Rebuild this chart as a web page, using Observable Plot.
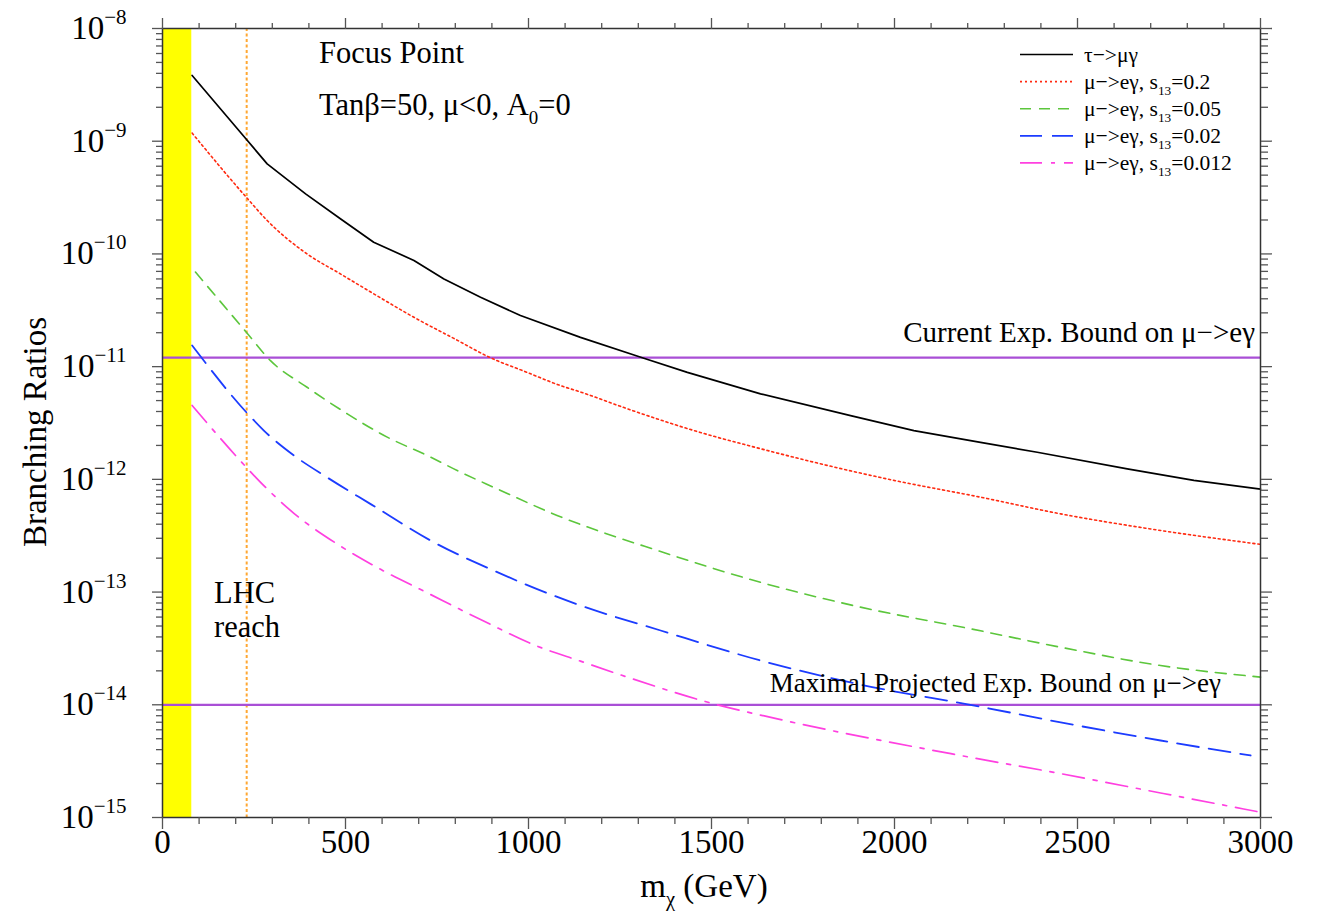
<!DOCTYPE html>
<html><head><meta charset="utf-8">
<script src="https://cdn.jsdelivr.net/npm/d3@7"></script>
<script src="https://cdn.jsdelivr.net/npm/@observablehq/plot@0.6"></script>
<style>body{margin:0;background:#fff} svg{display:block}</style>
</head><body><div id="chart"></div>
<script>
const FONT = '"Liberation Serif","Times New Roman",Times,serif';

// ---- data ----
const massTau = [81,229,286,391,486,577,687,769,869,978,1142,1311,1434,1634,1880,2053,2235,2390,2636,2818,3000];
const brTau   = [3.83e-9,1.04e-9,6.3e-10,3.41e-10,2.05e-10,1.27e-10,8.75e-11,6.0e-11,4.13e-11,2.84e-11,1.82e-11,1.20e-11,8.9e-12,5.74e-12,3.68e-12,2.71e-12,2.13e-12,1.74e-12,1.24e-12,9.8e-13,8.2e-13];

const massS02 = [81,229,286,395,486,577,687,796,896,996,1087,1142,1270,1452,1634,1816,1998,2235,2454,2727,3000];
const brS02   = [1.18e-9,3.18e-10,1.98e-10,1.0e-10,6.65e-11,4.43e-11,2.74e-11,1.78e-11,1.20e-11,8.9e-12,6.8e-12,5.96e-12,4.23e-12,2.71e-12,1.87e-12,1.33e-12,9.8e-13,6.95e-13,4.94e-13,3.52e-13,2.65e-13];

const massS005 = [90,229,295,395,505,614,723,814,905,1078,1361,1634,1907,2208,2454,2727,3000];
const brS005   = [6.9e-11,2.02e-11,1.13e-11,6.56e-12,3.81e-12,2.37e-12,1.63e-12,1.16e-12,8.5e-13,4.79e-13,2.29e-13,1.22e-13,7.35e-14,4.72e-14,3.24e-14,2.23e-14,1.76e-14];

const massS002 = [81,229,277,359,450,570,741,905,1069,1142,1361,1634,1907,2235,2454,2727,2973];
const brS002   = [1.54e-11,3.94e-12,2.71e-12,1.63e-12,1.04e-12,6.0e-13,2.77e-13,1.55e-13,9.3e-14,7.6e-14,4.56e-14,2.47e-14,1.51e-14,9.6e-15,6.98e-15,4.82e-15,3.55e-15];

const massS0012 = [81,229,268,359,486,596,723,869,1024,1142,1270,1506,1680,2180,2454,2727,2990];
const brS0012   = [4.52e-12,1.28e-12,9.4e-13,5.0e-13,2.56e-13,1.59e-13,9.86e-14,5.71e-14,3.31e-14,2.44e-14,1.76e-14,1.02e-14,7.5e-15,3.55e-15,2.45e-15,1.65e-15,1.13e-15];

const seriesLabels = ["τ−>μγ", "μ−>eγ, s_{13}=0.2", "μ−>eγ, s_{13}=0.05", "μ−>eγ, s_{13}=0.02", "μ−>eγ, s_{13}=0.012"];
const boundValues = [1.2e-11, 1.0e-14];
const boundLabels = ["Current Exp. Bound on μ−>eγ", "Maximal Projected Exp. Bound on μ−>eγ"];
const lhcBand = [{lo: 0, hi: 80}];
const lhcReach = [230];
const xDomain = [0, 3000];
const yDomain = [1e-15, 1e-8];
const xMajor = [0, 500, 1000, 1500, 2000, 2500, 3000];
const xMinor = d3.range(0, 3001, 100).filter(v => v % 500 !== 0);
const yExps = [-15, -14, -13, -12, -11, -10, -9, -8];
const yMajor = yExps.map(e => Math.pow(10, e));
const yMinor = yExps.slice(0, -1).flatMap(e => [2,3,4,5,6,7,8,9].map(k => k * Math.pow(10, e)));

// ---- styles ----
const seriesData = [[massTau, brTau],[massS02, brS02],[massS005, brS005],[massS002, brS002],[massS0012, brS0012]];
const styles = [
  {color: "#000000", width: 1.7, dash: null, curve: "linear"},
  {color: "#ff2a10", width: 1.6, dash: "2,3", curve: "monotone-x"},
  {color: "#5cc63c", width: 1.6, dash: "11,8", curve: "monotone-x"},
  {color: "#1c3cff", width: 1.8, dash: "22,10", curve: "monotone-x"},
  {color: "#ff40e0", width: 1.7, dash: "22,9,4,9", curve: "monotone-x"}
];

const rows = seriesData.flatMap(([ms, bs], s) => ms.map((m, i) => ({s, m, br: bs[i]})));

const tickCommon = {label: null, stroke: "#555", strokeWidth: 1.3};
const blank = () => "";

const plot = Plot.plot({
  width: 1317, height: 916,
  marginLeft: 162, marginRight: 57, marginTop: 28, marginBottom: 99,
  x: {domain: xDomain},
  y: {type: "log", domain: yDomain},
  style: {fontFamily: FONT, background: "white", color: "black"},
  marks: [
    Plot.rect(lhcBand, {x1: "lo", x2: "hi", y1: () => yDomain[0], y2: () => yDomain[1], fill: "#ffff00"}),
    Plot.ruleX(lhcReach, {x: d => d, stroke: "#ffa733", strokeWidth: 2, strokeDasharray: "3,2.5"}),
    Plot.ruleY(boundValues, {y: d => d, stroke: "#a94fd6", strokeWidth: 2.2}),
    ...styles.map((st, s) => Plot.line(rows.filter(r => r.s === s), {
      x: "m", y: "br", stroke: st.color, strokeWidth: st.width,
      strokeDasharray: st.dash, curve: st.curve
    })),
    Plot.frame({stroke: "#333", strokeWidth: 1.5}),
    Plot.axisX({...tickCommon, anchor: "bottom", ticks: xMajor, tickSize: 12, tickPadding: 0, fontSize: 33, tickFormat: d => String(d)}),
    Plot.axisX({...tickCommon, anchor: "bottom", ticks: xMinor, tickSize: 7, tickFormat: blank}),
    Plot.axisX({...tickCommon, anchor: "top", ticks: xMajor, tickSize: 11, tickFormat: blank}),
    Plot.axisX({...tickCommon, anchor: "top", ticks: xMinor, tickSize: 6, tickFormat: blank}),
    Plot.axisY({...tickCommon, anchor: "left", ticks: yMajor, tickSize: 10, tickPadding: 26, fontSize: 33,
      tickFormat: d => "E" + String(Math.round(Math.log10(d))).replace("-", "−")}),
    Plot.axisY({...tickCommon, anchor: "left", ticks: yMinor, tickSize: 6, tickFormat: blank}),
    Plot.axisY({...tickCommon, anchor: "right", ticks: yMajor, tickSize: 11, tickFormat: blank}),
    Plot.axisY({...tickCommon, anchor: "right", ticks: yMinor, tickSize: 7, tickFormat: blank})
  ]
});

document.getElementById("chart").appendChild(plot);
const svg = d3.select(plot);
const Y = plot.scale("y");

// superscript exponents on y tick labels
svg.selectAll("text").each(function() {
  const t = d3.select(this);
  const s = t.text();
  if (s.startsWith("E")) {
    t.text("10");
    t.append("tspan").attr("dy", -15).attr("font-size", 21).text(s.slice(1));
  }
});

// rich text helper: "_{...}" -> subscript
function rich(sel, str, fs) {
  const parts = str.split(/(_\{[^}]*\})/).filter(p => p.length);
  let shifted = false;
  for (const p of parts) {
    if (p.startsWith("_{")) {
      sel.append("tspan").attr("dy", fs * 0.28).attr("font-size", fs * 0.62).text(p.slice(2, -1));
      shifted = true;
    } else {
      const ts = sel.append("tspan").text(p);
      if (shifted) { ts.attr("dy", -fs * 0.28); shifted = false; }
    }
  }
}

const ann = svg.append("g").attr("font-family", FONT).attr("fill", "black").attr("text-anchor", "start");
ann.append("text").attr("x", 319).attr("y", 63).attr("font-size", 30.5).text("Focus Point");
rich(ann.append("text").attr("x", 319).attr("y", 115).attr("font-size", 30.5), "Tanβ=50, μ<0, A_{0}=0", 30.5);
ann.append("text").attr("x", 214).attr("y", 603).attr("font-size", 30.5).text("LHC");
ann.append("text").attr("x", 214).attr("y", 637).attr("font-size", 30.5).text("reach");

// bound labels
ann.append("text").attr("x", 1255).attr("y", Y.apply(boundValues[0]) - 15).attr("text-anchor", "end").attr("font-size", 29).text(boundLabels[0]);
ann.append("text").attr("x", 1221).attr("y", Y.apply(boundValues[1]) - 12).attr("text-anchor", "end").attr("font-size", 27).text(boundLabels[1]);

// axis titles
rich(ann.append("text").attr("x", 704).attr("y", 897).attr("text-anchor", "middle").attr("font-size", 33), "m_{χ} (GeV)", 33);
ann.append("text").attr("transform", "translate(46,432) rotate(-90)").attr("text-anchor", "middle").attr("font-size", 33).text("Branching Ratios");

// legend
const lg = svg.append("g").attr("font-family", FONT).attr("font-size", 21.5).attr("text-anchor", "start");
styles.forEach((st, i) => {
  const y = 54.5 + i * 27.1;
  lg.append("line").attr("x1", 1020).attr("x2", 1073).attr("y1", y).attr("y2", y)
    .attr("stroke", st.color).attr("stroke-width", st.width).attr("stroke-dasharray", st.dash);
  rich(lg.append("text").attr("x", 1084).attr("y", y + 7), seriesLabels[i], 21.5);
});
</script></body></html>
